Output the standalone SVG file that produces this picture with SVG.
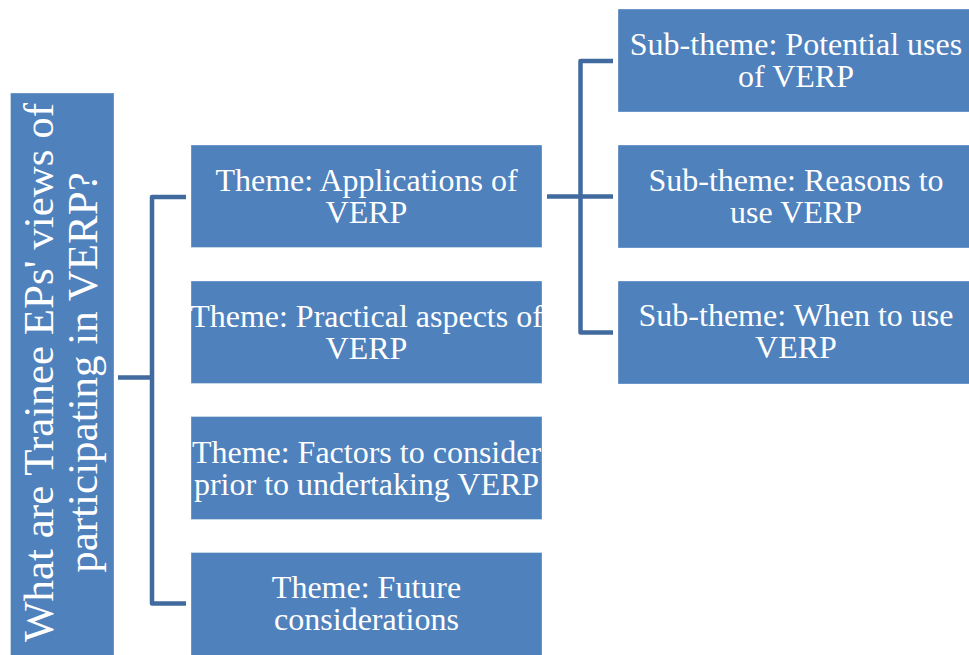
<svg xmlns="http://www.w3.org/2000/svg" width="969" height="655" viewBox="0 0 969 655">
<style>
.box{fill:#4f81bd;stroke:#ffffff;stroke-opacity:0.35;stroke-width:1}
.t{font-size:32px;fill:#ffffff;text-anchor:middle}
.q{font-size:43px;fill:#ffffff;text-anchor:middle}
.c{fill:none;stroke:#416a9f;stroke-width:4.5;stroke-linejoin:round}
</style>
<rect width="969" height="655" fill="#ffffff"/>
<g id="connectors">
<path class="c" d="M186,197 H152 V603.5 H186"/>
<path class="c" d="M118,377.5 H152"/>
<path class="c" d="M613,61 H580.5 V332.5 H613"/>
<path class="c" d="M547,196.5 H613"/>
</g>
<g font-family="Liberation Serif, Tinos, DejaVu Serif, serif">
<g id="question">
<rect class="box" x="10.5" y="93" width="103.5" height="570"/>
<g transform="translate(53,372.5) rotate(-90)">
<text class="q" x="0" y="0">What are Trainee EPs' views of</text>
<text class="q" x="0" y="44">participating in VERP?</text>
</g>
</g>
<g id="theme-applications">
<rect class="box" x="191" y="145" width="351" height="102.5"/>
<text class="t" x="366.5" y="190.5">Theme: Applications of</text>
<text class="t" x="366.5" y="223">VERP</text>
</g>
<g id="theme-practical">
<rect class="box" x="191" y="281" width="351" height="102.5"/>
<text class="t" x="366.5" y="326.5">Theme: Practical aspects of</text>
<text class="t" x="366.5" y="359">VERP</text>
</g>
<g id="theme-factors">
<rect class="box" x="191" y="416.5" width="351" height="103"/>
<text class="t" x="366.5" y="462.5">Theme: Factors to consider</text>
<text class="t" x="366.5" y="494.5">prior to undertaking VERP</text>
</g>
<g id="theme-future">
<rect class="box" x="191" y="552.5" width="351" height="110"/>
<text class="t" x="366.5" y="597.5">Theme: Future</text>
<text class="t" x="366.5" y="630">considerations</text>
</g>
<g id="sub-potential">
<rect class="box" x="618" y="9" width="360" height="103"/>
<text class="t" x="796" y="55">Sub-theme: Potential uses</text>
<text class="t" x="796" y="87">of VERP</text>
</g>
<g id="sub-reasons">
<rect class="box" x="618" y="145" width="360" height="103"/>
<text class="t" x="796" y="190.5">Sub-theme: Reasons to</text>
<text class="t" x="796" y="222.5">use VERP</text>
</g>
<g id="sub-when">
<rect class="box" x="618" y="281" width="360" height="103"/>
<text class="t" x="796" y="325.5">Sub-theme: When to use</text>
<text class="t" x="796" y="358">VERP</text>
</g>
</g>
</svg>
